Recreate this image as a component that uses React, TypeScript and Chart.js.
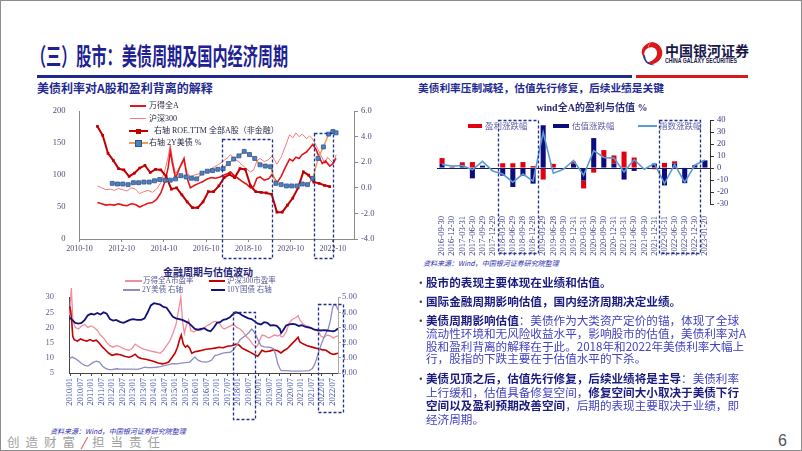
import React, { useEffect, useRef } from 'react';
import { Chart, registerables } from 'chart.js';

Chart.register(...registerables);

const SERIF = "'Liberation Serif', 'Noto Sans CJK SC', serif";
const SANS = "'Noto Sans CJK SC', 'Noto Sans', sans-serif";

// ================= Chart 1: 美债利率对A股和盈利背离的解释 =================
const c1TickValues = [2010.75, 2012.75, 2014.75, 2016.75, 2018.75, 2020.75, 2022.75];
const c1TickLabels = ['2010-10', '2012-10', '2014-10', '2016-10', '2018-10', '2020-10', '2022-10'];

const windA: [number, number][] = [
  [2011.6, 57], [2011.8, 55], [2012.0, 53], [2012.2, 54], [2012.4, 53], [2012.6, 55], [2012.8, 53],
  [2013.0, 52], [2013.2, 55], [2013.4, 54], [2013.6, 50], [2013.8, 53], [2014.0, 56], [2014.2, 57],
  [2014.4, 62], [2014.6, 72], [2014.8, 90], [2014.95, 112], [2015.05, 138], [2015.15, 118], [2015.3, 95],
  [2015.5, 112], [2015.7, 126], [2015.85, 95], [2016.0, 80], [2016.2, 84], [2016.4, 87], [2016.6, 90],
  [2016.8, 94], [2017.0, 96], [2017.2, 95], [2017.4, 97], [2017.6, 100], [2017.8, 103], [2017.9, 105],
  [2018.05, 100], [2018.25, 95], [2018.45, 90], [2018.65, 86], [2018.85, 80], [2019.0, 82], [2019.15, 95],
  [2019.3, 97], [2019.5, 92], [2019.7, 94], [2019.87, 101], [2020.1, 88], [2020.3, 98], [2020.5, 112],
  [2020.7, 125], [2020.85, 122], [2021.0, 128], [2021.15, 126], [2021.3, 132], [2021.5, 136], [2021.65, 142],
  [2021.8, 148], [2021.95, 140], [2022.1, 128], [2022.25, 118], [2022.4, 122], [2022.6, 114], [2022.75, 118],
  [2022.9, 126],
];
const hs300: [number, number][] = [
  [2011.6, 83], [2011.8, 80], [2012.0, 77], [2012.2, 78], [2012.4, 76], [2012.6, 79], [2012.8, 77],
  [2013.0, 75], [2013.2, 80], [2013.4, 78], [2013.6, 71], [2013.8, 74], [2014.0, 76], [2014.2, 73],
  [2014.4, 78], [2014.6, 88], [2014.8, 108], [2014.95, 128], [2015.05, 148], [2015.15, 125], [2015.3, 102],
  [2015.5, 112], [2015.7, 121], [2015.85, 104], [2016.0, 98], [2016.2, 100], [2016.4, 102], [2016.6, 104],
  [2016.8, 107], [2017.0, 110], [2017.2, 114], [2017.4, 118], [2017.6, 123], [2017.8, 128], [2017.9, 132],
  [2018.05, 126], [2018.25, 122], [2018.45, 116], [2018.65, 110], [2018.85, 105], [2019.0, 108], [2019.15, 122],
  [2019.3, 126], [2019.5, 121], [2019.7, 124], [2019.87, 130], [2020.1, 117], [2020.3, 128], [2020.5, 145],
  [2020.7, 163], [2020.85, 158], [2021.0, 166], [2021.15, 160], [2021.3, 164], [2021.5, 157], [2021.65, 161],
  [2021.75, 158], [2021.9, 150], [2022.05, 140], [2022.2, 130], [2022.37, 118], [2022.5, 128], [2022.65, 122],
  [2022.8, 118], [2022.9, 132],
];
const roeStart = 2011.6;
const roeVals = [
  4.8, 4.1, 2.7, 2.15, 1.5, 1.4, 0.9, 1.15, 1.55, 1.75, 1.2, 1.45, 1.4, 0.9, -0.1, 0.0, -0.55, -1.1,
  -1.55, -1.55, -1.1, -0.3, -0.3, 0.15, 0.8, 1.05, 0.8, 1.5, 1.45, 0.15, -0.3, -0.35, -0.4, -0.5,
  -1.9, -1.9, -1.35, -0.8, 0.0, 1.25, 1.0, 0.45, 0.35, 0.2, 0.1,
];
const us2yDates = [
  2012.3, 2012.55, 2012.8, 2013.05, 2013.3, 2013.55, 2013.8, 2014.05, 2014.3, 2014.55, 2014.8,
  2015.05, 2015.3, 2015.55, 2015.8, 2016.05, 2016.3, 2016.55, 2016.8, 2017.05, 2017.3, 2017.55,
  2017.8, 2018.05, 2018.3, 2018.55, 2018.8, 2019.05, 2019.3, 2019.55, 2019.8, 2020.05, 2020.3,
  2020.55, 2020.8, 2021.05, 2021.3, 2021.55, 2021.8, 2022.05, 2022.3, 2022.55, 2022.75, 2022.9,
];
const us2yVals = [
  0.35, 0.3, 0.3, 0.25, 0.4, 0.4, 0.45, 0.45, 0.55, 0.65, 0.6, 0.6, 0.7, 0.95, 0.85, 0.75, 0.7,
  1.15, 1.3, 1.35, 1.45, 1.5, 1.9, 2.25, 2.5, 2.85, 2.6, 2.3, 1.8, 1.7, 1.65, 0.35, 0.25, 0.15,
  0.15, 0.15, 0.3, 0.25, 0.74, 2.3, 3.2, 4.2, 4.4, 4.3,
];

// ================= Chart 2: 金融周期与估值波动 =================
const c2TickLabels = [
  '2010/01', '2010/07', '2011/01', '2011/07', '2012/01', '2012/07', '2013/01', '2013/07', '2014/01',
  '2014/07', '2015/01', '2015/07', '2016/01', '2016/07', '2017/01', '2017/07', '2018/01', '2018/07',
  '2019/01', '2019/07', '2020/01', '2020/07', '2021/01', '2021/07', '2022/01', '2022/07',
];
const windPE: [number, number][] = [
  [2009.98, 24], [2010.06, 33], [2010.14, 22], [2010.25, 20], [2010.4, 19.5], [2010.55, 20.5], [2010.7, 21],
  [2010.85, 20], [2011.0, 20.5], [2011.15, 20], [2011.3, 19], [2011.45, 17.5], [2011.6, 16.5], [2011.75, 15],
  [2011.9, 14], [2012.05, 13.5], [2012.2, 14], [2012.35, 13.8], [2012.5, 13.2], [2012.65, 12.8], [2012.8, 12.5],
  [2012.95, 13], [2013.1, 14.5], [2013.25, 13.8], [2013.4, 13.2], [2013.55, 12.8], [2013.7, 12.5], [2013.85, 12.2],
  [2014.0, 12], [2014.15, 11.8], [2014.3, 11.5], [2014.45, 12.5], [2014.6, 14], [2014.75, 15.5], [2014.9, 18],
  [2015.05, 21], [2015.18, 26], [2015.28, 30], [2015.36, 22], [2015.45, 18], [2015.55, 21], [2015.65, 22.5],
  [2015.75, 19], [2015.9, 18.5], [2016.05, 19.2], [2016.2, 19], [2016.35, 19.5], [2016.5, 20.5], [2016.65, 21],
  [2016.8, 21.8], [2016.95, 22], [2017.1, 21.5], [2017.25, 20], [2017.35, 19.5], [2017.5, 20], [2017.65, 20.5],
  [2017.8, 21], [2017.95, 20], [2018.1, 19.5], [2018.25, 18.5], [2018.4, 17], [2018.55, 16], [2018.7, 14.5],
  [2018.85, 13.5], [2018.95, 14.2], [2019.05, 16], [2019.15, 17.5], [2019.3, 17.2], [2019.45, 16.5], [2019.6, 17],
  [2019.75, 17.5], [2019.9, 17.2], [2020.0, 17.6], [2020.06, 16.9], [2020.15, 17], [2020.3, 18.5], [2020.45, 21.5],
  [2020.6, 22.7], [2020.75, 23.2], [2020.87, 23.9], [2020.95, 22.5], [2021.1, 21.2], [2021.25, 20.5], [2021.4, 20.3],
  [2021.55, 19.5], [2021.7, 19.2], [2021.85, 18.5], [2021.95, 17.2], [2022.1, 16.7], [2022.25, 17.5], [2022.4, 17.2],
  [2022.55, 16.5], [2022.65, 17], [2022.77, 17.2],
];
const hs300PE: [number, number][] = [
  [2009.98, 27], [2010.03, 25.5], [2010.08, 22], [2010.13, 17], [2010.2, 16], [2010.35, 15.5], [2010.5, 16.2],
  [2010.65, 15.8], [2010.8, 15.5], [2010.95, 16], [2011.1, 15.5], [2011.25, 15.8], [2011.4, 14.8], [2011.55, 13.5],
  [2011.7, 12.5], [2011.85, 11.5], [2012.0, 10.8], [2012.2, 11.2], [2012.4, 11], [2012.6, 10.5], [2012.8, 10.2],
  [2012.95, 10.5], [2013.1, 11.2], [2013.25, 10.2], [2013.4, 9.8], [2013.6, 9.5], [2013.8, 9.2], [2014.0, 8.8],
  [2014.2, 8.3], [2014.4, 8], [2014.55, 8.2], [2014.7, 8.6], [2014.85, 10], [2015.0, 11.5], [2015.12, 13.5],
  [2015.22, 16], [2015.3, 17.5], [2015.4, 14.5], [2015.5, 13.5], [2015.6, 14], [2015.7, 13.2], [2015.8, 11.5],
  [2015.95, 12], [2016.1, 12.2], [2016.3, 12.5], [2016.5, 12.8], [2016.7, 13], [2016.9, 13.2], [2017.1, 13.5],
  [2017.3, 13.3], [2017.5, 13.8], [2017.7, 14], [2017.9, 14.5], [2018.05, 14.2], [2018.2, 13.2], [2018.4, 12.5],
  [2018.6, 11.8], [2018.8, 11], [2018.95, 10.5], [2019.05, 11.5], [2019.15, 12.5], [2019.3, 12], [2019.5, 12.2],
  [2019.7, 12.6], [2019.9, 12.3], [2020.05, 11.6], [2020.2, 12.4], [2020.35, 13], [2020.5, 14.1], [2020.7, 15.5],
  [2020.87, 16.8], [2020.95, 15.2], [2021.1, 14.6], [2021.3, 14], [2021.5, 13.6], [2021.7, 13.2], [2021.85, 13],
  [2022.0, 12.7], [2022.2, 12.5], [2022.4, 11.5], [2022.55, 11.1], [2022.65, 11.3], [2022.77, 11.5],
];
const us2yDaily: [number, number][] = [
  [2009.98, 0.95], [2010.1, 1.05], [2010.25, 0.95], [2010.4, 0.8], [2010.55, 0.62], [2010.7, 0.5], [2010.85, 0.45],
  [2011.0, 0.6], [2011.1, 0.7], [2011.25, 0.78], [2011.4, 0.72], [2011.55, 0.45], [2011.7, 0.3], [2011.85, 0.22],
  [2012.0, 0.22], [2012.2, 0.28], [2012.4, 0.26], [2012.6, 0.25], [2012.8, 0.25], [2013.0, 0.25], [2013.2, 0.24],
  [2013.4, 0.3], [2013.55, 0.38], [2013.7, 0.35], [2013.9, 0.35], [2014.1, 0.38], [2014.3, 0.42], [2014.5, 0.48],
  [2014.7, 0.55], [2014.9, 0.62], [2015.1, 0.6], [2015.3, 0.65], [2015.5, 0.68], [2015.7, 0.72], [2015.85, 0.92],
  [2015.95, 1.05], [2016.1, 0.85], [2016.25, 0.75], [2016.45, 0.72], [2016.6, 0.75], [2016.75, 0.85], [2016.9, 1.15],
  [2017.05, 1.2], [2017.2, 1.28], [2017.35, 1.32], [2017.5, 1.35], [2017.65, 1.38], [2017.8, 1.55], [2017.95, 1.85],
  [2018.1, 2.2], [2018.25, 2.35], [2018.4, 2.5], [2018.55, 2.7], [2018.65, 2.9], [2018.75, 2.75], [2018.85, 2.5],
  [2018.95, 2.2], [2019.1, 1.8], [2019.25, 1.72], [2019.4, 1.7], [2019.55, 1.68], [2019.7, 1.6], [2019.8, 1.2],
  [2019.9, 0.6], [2020.0, 0.3], [2020.06, 0.15], [2020.3, 0.15], [2020.6, 0.13], [2020.9, 0.12], [2021.2, 0.14],
  [2021.4, 0.16], [2021.55, 0.3], [2021.65, 0.55], [2021.72, 0.8], [2021.85, 1.4], [2022.0, 2.0], [2022.15, 2.5],
  [2022.3, 2.9], [2022.4, 3.4], [2022.5, 4.2], [2022.56, 4.5], [2022.62, 4.5], [2022.7, 4.4], [2022.77, 4.15],
];
const cn10y: [number, number][] = [
  [2009.98, 3.65], [2010.1, 3.5], [2010.25, 3.3], [2010.4, 3.25], [2010.55, 3.3], [2010.7, 3.5], [2010.85, 3.8],
  [2011.0, 3.9], [2011.15, 3.85], [2011.3, 3.95], [2011.45, 3.85], [2011.6, 4.0], [2011.75, 3.9], [2011.9, 3.55],
  [2012.05, 3.45], [2012.2, 3.5], [2012.4, 3.35], [2012.55, 3.3], [2012.7, 3.4], [2012.85, 3.5], [2013.0, 3.55],
  [2013.2, 3.5], [2013.4, 3.5], [2013.55, 3.6], [2013.7, 4.0], [2013.85, 4.45], [2014.0, 4.6], [2014.15, 4.55],
  [2014.3, 4.5], [2014.45, 4.35], [2014.6, 4.3], [2014.75, 4.0], [2014.9, 3.7], [2015.05, 3.6], [2015.2, 3.55],
  [2015.35, 3.5], [2015.5, 3.4], [2015.65, 3.3], [2015.8, 3.1], [2015.95, 2.9], [2016.1, 2.85], [2016.25, 2.9],
  [2016.4, 2.95], [2016.55, 2.8], [2016.7, 2.75], [2016.85, 3.0], [2017.0, 3.3], [2017.15, 3.35], [2017.3, 3.5],
  [2017.45, 3.55], [2017.6, 3.65], [2017.75, 3.85], [2017.9, 4.0], [2018.05, 3.95], [2018.2, 3.8], [2018.35, 3.7],
  [2018.5, 3.6], [2018.65, 3.55], [2018.8, 3.4], [2018.95, 3.25], [2019.1, 3.2], [2019.25, 3.35], [2019.4, 3.3],
  [2019.55, 3.13], [2019.7, 3.15], [2019.85, 3.1], [2020.0, 2.9], [2020.06, 2.63], [2020.15, 2.8], [2020.3, 3.13],
  [2020.45, 3.2], [2020.6, 3.24], [2020.75, 3.2], [2020.9, 3.1], [2021.05, 3.15], [2021.2, 3.05], [2021.35, 3.0],
  [2021.5, 2.95], [2021.65, 2.85], [2021.8, 2.83], [2021.95, 2.8], [2022.1, 2.82], [2022.25, 2.8], [2022.4, 2.77],
  [2022.55, 2.75], [2022.65, 2.8], [2022.77, 2.93],
];

// ================= Chart 3: wind全A的盈利与估值 % =================
const c3Dates = [
  '2016-09-30', '2016-12-30', '2017-03-31', '2017-06-30', '2017-09-29', '2017-12-29', '2018-03-30',
  '2018-06-29', '2018-09-28', '2018-12-28', '2019-03-29', '2019-06-28', '2019-09-30', '2019-12-31',
  '2020-03-31', '2020-06-30', '2020-09-30', '2020-12-31', '2021-03-31', '2021-06-30', '2021-09-30',
  '2021-12-31', '2022-03-31', '2022-06-30', '2022-09-30', '2022-12-30', '2023-01-20',
];
const valuationChg = [
  3.5, 0.5, 2, -8.6, 2, 0, -6.4, -15.8, -6.4, -13, 35.7, -1, 0, 3.7, -10.5, 25, 9, 3.7, -9.6, -2.4,
  0, 3.7, -14.5, 3.7, -12.6, 2.4, 6.4,
];
const earningsChg = [
  4.8, 0.5, 2.8, 5, 0, 0, 4, 4, 5, 1.6, -9.6, 3.5, 0, 1.7, -6.5, -3.8, 6, 6.8, 13.7, 8.8, 0, -1, 4.3,
  1.9, 0.5, 0, 0,
];
const indexChg = [
  3, 1.6, 2.1, -1.5, 5.6, -2.4, -5, -11.8, -5, -11, 29.8, -4.3, -1, 6.4, -6, 14.5, 8.8, 8.3, -3.2, 7,
  -1, 3.7, -13, 3, -12, 2.4, 6.7,
];
const c3YTicks = [-30, -20, -10, 0, 10, 20, 30, 40];

// ---------- helpers ----------
type Box = { x0: number; x1: number; yTop: number; below: number };
const c1Boxes: Box[] = [
  { x0: 2017.52, x1: 2019.85, yTop: 157, below: 19 },
  { x0: 2021.86, x1: 2022.76, yTop: 165, below: 19 },
];
const c2Boxes: Box[] = [
  { x0: 2017.77, x1: 2018.82, yTop: 25.2, below: 46 },
  { x0: 2021.82, x1: 2023.0, yTop: 27.6, below: 39 },
];
const c3Boxes: Box[] = [
  { x0: 5.5, x1: 9.5, yTop: 40, below: 49 },
  { x0: 21.5, x1: 25.5, yTop: 40, below: 49 },
];

function boxPlugin(boxes: Box[], xId: string, yId: string) {
  return {
    id: 'dashBoxes',
    afterDraw(chart: any) {
      const { ctx, chartArea } = chart;
      const xs = chart.scales[xId];
      const ys = chart.scales[yId];
      ctx.save();
      ctx.strokeStyle = '#23318c';
      ctx.lineWidth = 1.3;
      ctx.setLineDash([3, 2]);
      for (const b of boxes) {
        const l = Math.round(xs.getPixelForValue(b.x0)) + 0.5;
        const r = Math.round(xs.getPixelForValue(b.x1)) + 0.5;
        const t = Math.round(ys.getPixelForValue(b.yTop)) + 0.5;
        const btm = Math.round(chartArea.bottom + b.below) + 0.5;
        ctx.strokeRect(l, t, r - l, btm - t);
      }
      ctx.restore();
    },
  };
}

const xy = (pairs: [number, number][]) => pairs.map(([x, y]) => ({ x, y }));
const xyFrom = (xs: number[], ys: number[]) => ys.map((y, i) => ({ x: xs[i], y }));

function makeChart1(canvas: HTMLCanvasElement) {
  const roeDates = roeVals.map((_, i) => roeStart + i * 0.25);
  const tickColor = '#4d4d7a';
  const axisColor = '#8a8a8a';
  return new Chart(canvas, {
    type: 'line',
    data: {
      datasets: [
        {
          label: '右轴 2Y美债 %', data: xyFrom(us2yDates, us2yVals), yAxisID: 'yR',
          borderColor: '#f0a04b', borderWidth: 1.5, pointStyle: 'rect', pointRadius: 2.8,
          pointBackgroundColor: '#4f81bd', pointBorderColor: '#2b5797', pointBorderWidth: 0.8,
        },
        {
          label: '右轴 ROE.TTM 全部A股（非金融）', data: xyFrom(roeDates, roeVals), yAxisID: 'yR',
          borderColor: '#c00000', borderWidth: 2, pointStyle: 'rect', pointRadius: 1.9,
          pointBackgroundColor: '#c00000', pointBorderWidth: 0,
        },
        { label: '万得全A', data: xy(windA), yAxisID: 'yL', borderColor: '#e3151b', borderWidth: 1.6, pointRadius: 0 },
        { label: '沪深300', data: xy(hs300), yAxisID: 'yL', borderColor: '#f37b7b', borderWidth: 1, pointRadius: 0 },
      ],
    },
    options: {
      responsive: false, animation: false, devicePixelRatio: 1, events: [],
      layout: { padding: { top: 9, left: 0, right: 0, bottom: 0 } },
      plugins: { legend: { display: false }, tooltip: { enabled: false } },
      scales: {
        x: {
          type: 'linear', min: 2010.75, max: 2023.75,
          afterBuildTicks: (s: any) => { s.ticks = c1TickValues.map((value) => ({ value })); },
          ticks: {
            autoSkip: false, maxRotation: 0, minRotation: 0, padding: 2,
            callback: (_v: any, i: number) => c1TickLabels[i],
            font: { family: SERIF, size: 8 }, color: tickColor,
          },
          grid: { display: true, drawOnChartArea: false, drawTicks: true, tickLength: 3, color: axisColor },
          border: { display: true, color: axisColor },
          afterFit: (s: any) => { s.height = 26; },
        },
        yL: {
          type: 'linear', position: 'left', min: 0, max: 200,
          ticks: { stepSize: 50, autoSkip: false, padding: 6, font: { family: SERIF, size: 8.5 }, color: tickColor },
          grid: { display: false },
          border: { display: true, color: axisColor },
          afterFit: (s: any) => { s.width = 39.5; },
        },
        yR: {
          type: 'linear', position: 'right', min: -4, max: 6,
          ticks: {
            stepSize: 2, autoSkip: false, padding: 3, font: { family: SERIF, size: 8.5 }, color: tickColor,
            callback: (v: any) => Number(v).toFixed(1),
          },
          grid: { display: true, drawOnChartArea: false, tickLength: 4, color: axisColor },
          border: { display: true, color: axisColor },
          afterFit: (s: any) => { s.width = 36; },
        },
      },
    },
    plugins: [boxPlugin(c1Boxes, 'x', 'yL')],
  } as any);
}

function makeChart2(canvas: HTMLCanvasElement) {
  const tickValues = c2TickLabels.map((l) => Number(l.slice(0, 4)) + (l.endsWith('07') ? 0.5 : 0));
  const tickColor = '#5d5d99';
  return new Chart(canvas, {
    type: 'line',
    data: {
      datasets: [
        { label: '10Y国债 右轴', data: xy(cn10y), yAxisID: 'yR', borderColor: '#12127a', borderWidth: 1.8, pointRadius: 0 },
        { label: '2Y美债 右轴', data: xy(us2yDaily), yAxisID: 'yR', borderColor: '#8e8cc0', borderWidth: 1.3, pointRadius: 0 },
        { label: '沪深300市盈率', data: xy(hs300PE), yAxisID: 'yL', borderColor: '#c40000', borderWidth: 1.6, pointRadius: 0 },
        { label: '万得全A市盈率', data: xy(windPE), yAxisID: 'yL', borderColor: '#f28ca0', borderWidth: 1.3, pointRadius: 0, clip: false },
      ],
    },
    options: {
      responsive: false, animation: false, devicePixelRatio: 1, events: [],
      layout: { padding: { top: 6, left: 0, right: 0, bottom: 0 } },
      plugins: { legend: { display: false }, tooltip: { enabled: false } },
      scales: {
        x: {
          type: 'linear', min: 2009.95, max: 2022.77,
          afterBuildTicks: (s: any) => { s.ticks = tickValues.map((value) => ({ value })); },
          ticks: {
            autoSkip: false, maxRotation: 90, minRotation: 90, padding: 2,
            callback: (_v: any, i: number) => c2TickLabels[i],
            font: { family: SERIF, size: 8.5 }, color: '#3a4aa8',
          },
          grid: { display: true, drawOnChartArea: false, drawTicks: true, tickLength: 3, color: '#444' },
          border: { display: true, color: '#444' },
          afterFit: (s: any) => { s.height = 48; },
        },
        yL: {
          type: 'linear', position: 'left', min: 5, max: 30,
          ticks: { stepSize: 5, autoSkip: false, padding: 7, font: { family: SERIF, size: 8.5 }, color: tickColor },
          grid: { display: false },
          border: { display: true, color: '#444' },
          afterFit: (s: any) => { s.width = 49; },
        },
        yR: {
          type: 'linear', position: 'right', min: 0, max: 5,
          ticks: {
            stepSize: 1, autoSkip: false, padding: 1, font: { family: SERIF, size: 8.5 }, color: tickColor,
            callback: (v: any) => Number(v).toFixed(2),
          },
          grid: { display: true, drawOnChartArea: false, tickLength: 3, color: '#aaa' },
          border: { display: true, color: '#aaa' },
          afterFit: (s: any) => { s.width = 47; },
        },
      },
    },
    plugins: [boxPlugin(c2Boxes, 'x', 'yL')],
  } as any);
}

function makeChart3(canvas: HTMLCanvasElement) {
  const tickColor = '#3a3a8c';
  return new Chart(canvas, {
    type: 'bar',
    data: {
      labels: c3Dates,
      datasets: [
        {
          type: 'line', label: '指数涨跌幅', data: indexChg, borderColor: '#5b9bd5', borderWidth: 1.6,
          pointRadius: 0, order: 0, stack: 'line',
        },
        {
          label: '估值涨跌幅', data: valuationChg, backgroundColor: '#0c0c7c', order: 1, stack: 's',
          barPercentage: 0.5, categoryPercentage: 1,
        },
        {
          label: '盈利涨跌幅', data: earningsChg, backgroundColor: '#e1000f', order: 2, stack: 's',
          barPercentage: 0.5, categoryPercentage: 1,
        },
      ],
    },
    options: {
      responsive: false, animation: false, devicePixelRatio: 1, events: [],
      layout: { padding: { top: 5, left: 7, right: 0, bottom: 0 } },
      plugins: { legend: { display: false }, tooltip: { enabled: false } },
      scales: {
        x: {
          stacked: true, offset: true,
          grid: { display: false }, border: { display: false },
          ticks: {
            autoSkip: false, minRotation: 90, maxRotation: 90, padding: 4,
            font: { family: SERIF, size: 8.5 }, color: tickColor,
          },
          afterFit: (s: any) => { s.height = 54; },
        },
        y: {
          stacked: true, position: 'right', min: -30, max: 40,
          afterBuildTicks: (s: any) => { s.ticks = c3YTicks.map((value) => ({ value })); },
          ticks: { autoSkip: false, padding: 3, font: { family: SERIF, size: 8.5 }, color: tickColor },
          grid: {
            color: (c: any) => (c.tick && c.tick.value === 0 ? '#1c1c5c' : 'rgba(0,0,0,0)'),
            tickColor: '#333', tickLength: 4, lineWidth: 1,
          },
          border: { display: true, color: '#333' },
          afterFit: (s: any) => { s.width = 30; },
        },
      },
    },
    plugins: [boxPlugin(c3Boxes, 'x', 'y')],
  } as any);
}

// ---------- small layout helpers ----------
function T(props: {
  x: number; y: number; size: number; color?: string; bold?: boolean; family?: string;
  italic?: boolean; children: React.ReactNode; style?: React.CSSProperties;
}) {
  const lh = Math.round(props.size * 1.3);
  return (
    <div
      style={{
        position: 'absolute', left: props.x, top: props.y - lh / 2, height: lh, lineHeight: `${lh}px`,
        fontSize: props.size, color: props.color || '#333', fontWeight: props.bold ? 700 : 400,
        fontStyle: props.italic ? 'italic' : 'normal', fontFamily: props.family || SANS,
        whiteSpace: 'nowrap', ...props.style,
      }}
    >
      {props.children}
    </div>
  );
}

function R(props: { x: number; y: number; w: number; h: number; c: string; style?: React.CSSProperties }) {
  return (
    <div style={{ position: 'absolute', left: props.x, top: props.y, width: props.w, height: props.h, background: props.c, ...props.style }} />
  );
}

const BOLD = '#1b1b80';
const NORM = '#4242c2';

export default function App() {
  const r1 = useRef<HTMLCanvasElement>(null);
  const r2 = useRef<HTMLCanvasElement>(null);
  const r3 = useRef<HTMLCanvasElement>(null);

  useEffect(() => {
    document.body.style.margin = '0';
    const charts = [makeChart1(r1.current!), makeChart2(r2.current!), makeChart3(r3.current!)];
    return () => charts.forEach((c) => c.destroy());
  }, []);

  const cv = (left: number, top: number, w: number, h: number): React.CSSProperties => ({
    position: 'absolute', left, top, width: w, height: h, display: 'block',
  });

  const lines: { y: number; bullet?: boolean; parts: [boolean, string][] }[] = [
    { y: 282, bullet: true, parts: [[true, '股市的表现主要体现在业绩和估值。']] },
    { y: 301, bullet: true, parts: [[true, '国际金融周期影响估值，国内经济周期决定业绩。']] },
    { y: 320, bullet: true, parts: [[true, '美债周期影响估值'], [false, '：美债作为大类资产定价的锚，体现了全球']] },
    { y: 333, parts: [[false, '流动性环境和无风险收益水平，影响股市的估值，美债利率对A']] },
    { y: 346, parts: [[false, '股和盈利背离的解释在于此。2018年和2022年美债利率大幅上']] },
    { y: 358.5, parts: [[false, '行，股指的下跌主要在于估值水平的下杀。']] },
    { y: 378.5, bullet: true, parts: [[true, '美债见顶之后，估值先行修复，后续业绩将是主导'], [false, '：美债利率']] },
    { y: 392, parts: [[false, '上行缓和，估值具备修复空间，'], [true, '修复空间大小取决于美债下行']] },
    { y: 405.5, parts: [[true, '空间以及盈利预期改善空间'], [false, '，后期的表现主要取决于业绩，即']] },
    { y: 419.5, parts: [[false, '经济周期。']] },
  ];

  return (
    <div style={{ position: 'fixed', left: 0, top: 0, width: 802, height: 451, background: '#fff', overflow: 'hidden', fontFamily: SANS }}>
      {/* Header */}
      <div
        style={{
          position: 'absolute', left: 31, top: 42, fontSize: 24, lineHeight: '26px', fontWeight: 700,
          color: '#1e2192', fontFamily: SANS, transform: 'scaleX(0.63)', transformOrigin: '0 0', whiteSpace: 'nowrap',
        }}
      >
        （三）股市：美债周期及国内经济周期
      </div>
      <svg style={{ position: 'absolute', left: 640, top: 41 }} width={24} height={26} viewBox="0 0 24 26">
        <path d="M12 1 A11 11 0 1 1 5 21 C10 22 17 18 17 12 C17 7 12 5 8 7 C9 3 11 1 12 1 Z" fill="#d7191c" />
        <path d="M8 7 C4 9 3 14 6 17 C3 16 1 13 2 9 C3 5 7 2 12 1 C10 2 8 4 8 7 Z" fill="#d7191c" />
        <path d="M3 15 C4 21 9 25 15 24 C9 23 5 20 5 14 Z" fill="#1b3c8f" />
      </svg>
      <T x={665} y={50} size={14} bold color="#18184a">中国银河证券</T>
      <div
        style={{
          position: 'absolute', left: 665, top: 57, fontSize: 6.5, lineHeight: '7px', fontWeight: 700,
          color: '#18184a', fontFamily: "'Liberation Sans', Arial, sans-serif", transform: 'scaleX(0.8)',
          transformOrigin: '0 0', whiteSpace: 'nowrap',
        }}
      >
        CHINA GALAXY SECURITIES
      </div>
      <R x={37} y={75} w={595} h={3} c="#1f2a8f" />
      <R x={636} y={75} w={112} h={3} c="#d7191c" />

      {/* Subtitles */}
      <T x={37} y={88} size={12} bold color="#1f2a90">美债利率对A股和盈利背离的解释</T>
      <T x={418} y={88} size={10.7} bold color="#1f2a90">美债利率压制减轻，估值先行修复，后续业绩是关键</T>

      {/* Canvases */}
      <canvas ref={r1} width={350} height={165} style={cv(40, 100, 350, 165)} />
      <canvas ref={r2} width={365} height={136} style={cv(20, 285, 365, 136)} />
      <canvas ref={r3} width={310} height={146} style={cv(430, 112, 310, 146)} />

      {/* Chart 1 legend */}
      <R x={130} y={105} w={16} h={1.6} c="#e3151b" />
      <T x={149} y={106} size={8} family={SERIF} color="#2b2b4b">万得全A</T>
      <R x={130} y={118} w={16} h={1} c="#f37b7b" />
      <T x={149} y={118.5} size={8} family={SERIF} color="#2b2b4b">沪深300</T>
      <R x={129} y={130} w={19} h={2} c="#c00000" />
      <R x={136} y={128.5} w={5} h={5} c="#c00000" />
      <T x={154} y={131} size={8} family={SERIF} color="#2b2b4b">右轴 ROE.TTM 全部A股（非金融）</T>
      <R x={129} y={142.3} w={19} h={1.5} c="#f0a04b" />
      <R x={135} y={140} w={5} h={5} c="#4f81bd" style={{ border: '0.8px solid #2b5797' }} />
      <T x={149} y={143} size={8} family={SERIF} color="#2b2b4b">右轴 2Y美债 %</T>

      {/* Chart 2 title + legend */}
      <T x={163} y={272} size={10} bold family={SERIF} color="#23237a">金融周期与估值波动</T>
      <R x={125} y={280.3} w={17} h={1.4} c="#f28ca0" />
      <T x={143} y={281} size={7.5} family={SERIF} color="#5a5a9a">万得全A市盈率</T>
      <R x={209} y={280} w={16} h={2} c="#c40000" />
      <T x={227} y={281} size={7.5} family={SERIF} color="#5a5a9a">沪深300市盈率</T>
      <R x={123} y={289.4} w={17} h={1.3} c="#8e8cc0" />
      <T x={142} y={290} size={7.5} family={SERIF} color="#5a5a9a">2Y美债 右轴</T>
      <R x={211} y={289.2} w={14} h={1.8} c="#12127a" />
      <T x={227} y={290} size={7.5} family={SERIF} color="#5a5a9a">10Y国债 右轴</T>

      {/* Chart 3 title + legend */}
      <div
        style={{
          position: 'absolute', left: 492, top: 101, width: 200, textAlign: 'center', fontSize: 10,
          lineHeight: '14px', fontWeight: 700, fontFamily: SERIF, color: '#2b2b7b', whiteSpace: 'nowrap',
        }}
      >
        wind全A的盈利与估值 %
      </div>
      <R x={468} y={124} w={14} h={4} c="#e1000f" />
      <T x={485} y={126} size={8.5} family={SERIF} color="#6262a8">盈利涨跌幅</T>
      <R x={553} y={124} w={16} h={4} c="#0c0c7c" />
      <T x={572} y={126} size={8.5} family={SERIF} color="#6262a8">估值涨跌幅</T>
      <R x={638} y={125.3} w={19} h={1.6} c="#5b9bd5" />
      <T x={659} y={126} size={8.5} family={SERIF} color="#6262a8">指数涨跌幅</T>

      {/* Sources */}
      <T x={423} y={263} size={7} italic color="#2a2ab0">资料来源：Wind，中国银河证券研究院整理</T>
      <T x={50} y={431} size={7} italic color="#2a2ab0">资料来源：Wind，中国银河证券研究院整理</T>

      {/* Bullets */}
      {lines.map((ln, i) => (
        <React.Fragment key={i}>
          {ln.bullet && <T x={415} y={ln.y} size={11.6} color="#444">•</T>}
          <T x={426} y={ln.y} size={11.6} color={NORM}>
            {ln.parts.map(([b, t], j) => (
              <span key={j} style={{ fontWeight: b ? 700 : 400, color: b ? BOLD : NORM }}>{t}</span>
            ))}
          </T>
        </React.Fragment>
      ))}

      {/* Footer */}
      <T x={7} y={442} size={12.5} color="#a0a0a0" style={{ letterSpacing: '1.6px' }}>
        创 造 财 富 <span style={{ color: '#d7191c', fontStyle: 'italic' }}>/</span> 担 当 责 任
      </T>
      <T x={778} y={440} size={16} color="#555" family="'Liberation Sans', Arial, sans-serif">6</T>

      {/* Slide frame */}
      <div style={{ position: 'absolute', left: 0, top: 0, width: 802, height: 451, boxSizing: 'border-box', border: '1px solid #8c8c8c', pointerEvents: 'none' }} />
    </div>
  );
}
